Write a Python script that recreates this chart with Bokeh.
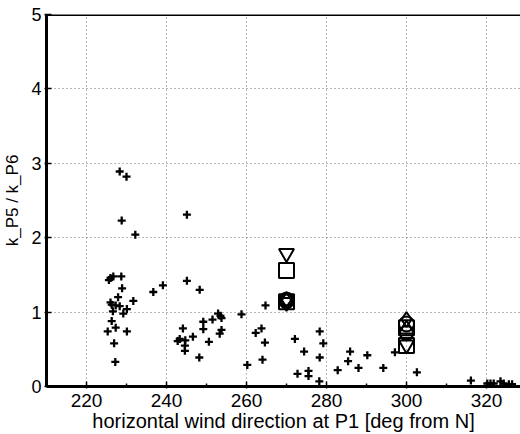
from bokeh.plotting import figure
from bokeh.models import Range1d, FixedTicker, ColumnDataSource, Span
from bokeh.embed import file_html
from bokeh.resources import INLINE

# scatter data (+ markers)
wind_dir = [228.3, 230.0, 228.8, 232.2, 245.1, 225.6, 226.0, 226.7, 228.7, 228.9,
            227.9, 231.7, 226.0, 226.3, 227.3, 228.3, 230.1, 226.6, 229.2, 226.3,
            227.3, 225.3, 230.1, 226.9, 227.2, 236.7, 239.1, 245.1, 248.3, 244.1,
            242.8, 243.3, 244.7, 246.6, 244.6, 244.6, 248.2, 264.75, 258.75, 252.9,
            253.5, 253.75, 251.5, 249.2, 249.2, 253.75, 253.3, 250.6, 260.2, 263.75,
            262.3, 264.6, 264.0, 272.1, 274.4, 278.3, 279.2, 278.3, 272.75, 275.5,
            275.5, 278.2, 282.8, 285.9, 285.4, 288.0, 290.2, 294.2, 297.1, 302.6,
            316.1, 320.2, 321.0, 321.8, 323.5, 324.3, 325.6, 326.4]
k_ratio = [2.89, 2.82, 2.23, 2.04, 2.31, 1.43, 1.46, 1.48, 1.48, 1.32,
           1.20, 1.15, 1.13, 1.10, 1.09, 1.08, 1.04, 1.01, 0.98, 0.88,
           0.79, 0.74, 0.74, 0.58, 0.33, 1.27, 1.36, 1.42, 1.30, 0.78,
           0.61, 0.64, 0.62, 0.67, 0.55, 0.48, 0.39, 1.09, 0.97, 0.98,
           0.95, 0.92, 0.90, 0.87, 0.77, 0.76, 0.71, 0.60, 0.29, 0.78,
           0.72, 0.59, 0.36, 0.64, 0.47, 0.74, 0.58, 0.39, 0.17, 0.21,
           0.14, 0.07, 0.22, 0.47, 0.34, 0.25, 0.42, 0.25, 0.46, 0.19,
           0.08, 0.04, 0.04, 0.04, 0.07, 0.04, 0.03, 0.03]

# model results (open symbols)
model_dir = [270, 270, 270, 270, 270, 270, 270, 270,
             300, 300, 300, 300, 300, 300, 300]
model_k = [1.79, 1.56, 1.14, 1.16, 1.17, 1.15, 1.13, 1.15,
           0.90, 0.84, 0.79, 0.77, 0.72, 0.55, 0.56]
model_marker = ["inverted_triangle", "square", "square", "circle", "diamond", "triangle",
                "inverted_triangle", "hex",
                "diamond", "circle", "square", "triangle", "hex", "square", "inverted_triangle"]

x_ticks = [220, 240, 260, 280, 300, 320]
x_minor = [230, 250, 270, 290, 310]
y_ticks = [0, 1, 2, 3, 4, 5]
y_max = 5

p = figure(width=520, height=434, output_backend="svg", toolbar_location=None,
           x_range=Range1d(210, 328.5), y_range=Range1d(0, y_max),
           min_border_left=46, min_border_right=0, min_border_top=14, min_border_bottom=48)
p.outline_line_color = None
p.background_fill_color = "white"
p.border_fill_color = "white"

bottom = p.below[0]
left = p.left[0]

p.scatter(wind_dir, k_ratio, marker="cross", size=8, line_width=2.3, color="black")

src = ColumnDataSource(dict(x=model_dir, y=model_k, m=model_marker))
p.scatter("x", "y", marker="m", source=src, size=15, line_width=2,
          line_color="black", fill_color=None)

# top frame edge
p.add_layout(Span(location=y_max, dimension="width", line_color="black", line_width=3))

font = "Liberation Sans"
bottom.ticker = FixedTicker(ticks=x_ticks, minor_ticks=x_minor)
left.ticker = FixedTicker(ticks=y_ticks, minor_ticks=[])
for ax in (bottom, left):
    ax.axis_line_width = 3
    ax.axis_line_color = "#000000"
    ax.major_tick_in = 5
    ax.major_tick_out = 2
    ax.minor_tick_in = 3
    ax.minor_tick_out = 1
    ax.major_tick_line_color = "#000000"
    ax.major_tick_line_width = 1.5
    ax.minor_tick_line_color = "#000000"
    ax.minor_tick_line_width = 1.5
    ax.major_label_text_font = font
    ax.major_label_text_color = "black"
    ax.axis_label_text_font = font
    ax.axis_label_text_font_style = "normal"
    ax.axis_label_text_color = "black"

bottom.axis_label = "horizontal wind direction at P1 [deg from N]"
left.axis_label = "k_P5 / k_P6"
bottom.major_label_text_font_size = "19px"
bottom.axis_label_text_font_size = "20px"
left.major_label_text_font_size = "18px"
left.axis_label_text_font_size = "17px"
bottom.major_label_standoff = 5
bottom.axis_label_standoff = 0
left.major_label_standoff = 3
left.axis_label_standoff = 6

p.xgrid.ticker = FixedTicker(ticks=x_ticks)
p.ygrid.ticker = FixedTicker(ticks=[1, 2, 3, 4])
for g in (p.xgrid[0], p.ygrid[0]):
    g.grid_line_color = "black"
    g.grid_line_alpha = 0.55
    g.grid_line_dash = "1 3"
    g.grid_line_width = 1

open("out.html", "w").write(file_html(p, INLINE))
